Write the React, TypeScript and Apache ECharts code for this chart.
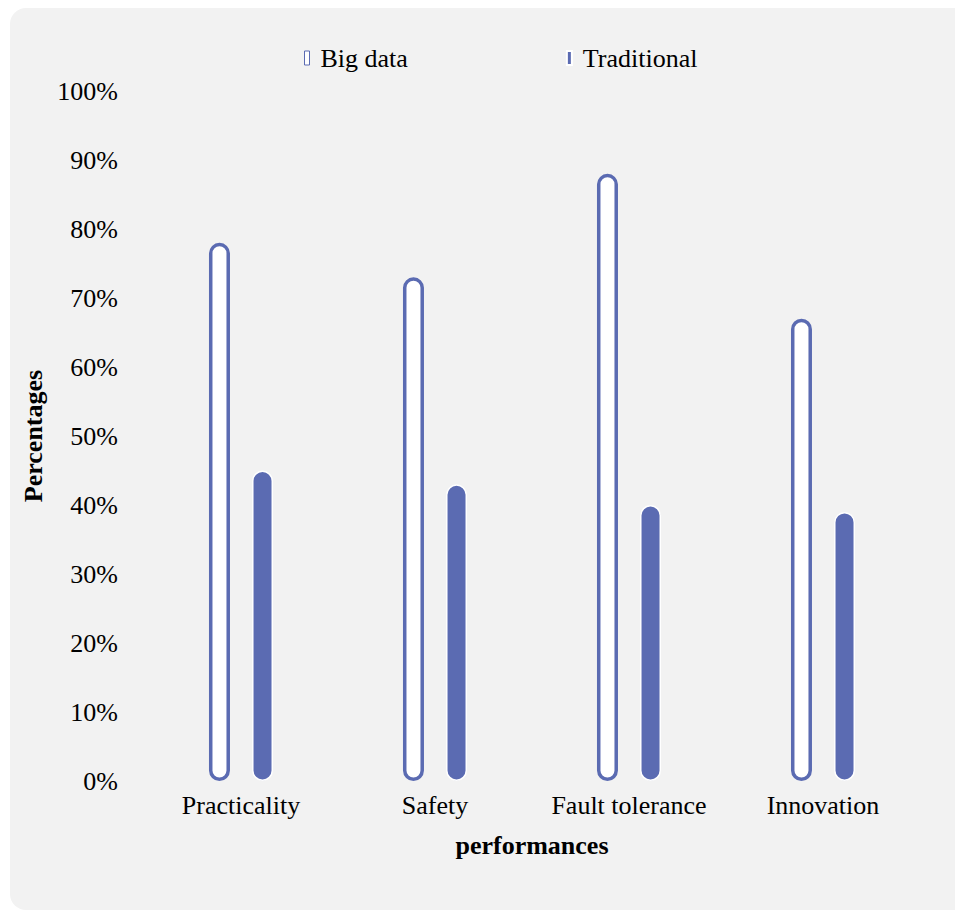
import React, { useEffect, useRef } from "react";
import * as echarts from "echarts";

const categories = ["Practicality", "Safety", "Fault tolerance", "Innovation"];
const bigData = [78, 73, 88, 67];
const traditional = [45, 43, 40, 39];
const seriesNames = ["Big data", "Traditional"];

const BLUE = "#5b6bb2";
const FONT = "'Liberation Serif', 'Times New Roman', serif";

export default function App() {
  const ref = useRef<HTMLDivElement>(null);
  useEffect(() => {
    document.body.style.margin = "0";
    const chart = echarts.init(ref.current!, null, { renderer: "svg" });
    chart.setOption({
      animation: false,
      backgroundColor: "#ffffff",
      textStyle: { fontFamily: FONT },
      graphic: [
        {
          type: "rect",
          z: -10,
          silent: true,
          shape: { x: 10, y: 8, width: 970, height: 902, r: 16 },
          style: { fill: "#f2f2f2" },
        },
      ],
      legend: {
        top: 40,
        left: 299,
        itemWidth: 5,
        itemHeight: 14,
        itemGap: 158,
        textStyle: { fontFamily: FONT, fontSize: 26, color: "#000", padding: [0, 0, 0, 6] },
        data: [
          { name: seriesNames[0], icon: "rect", itemStyle: { color: "#ffffff", borderColor: BLUE, borderWidth: 1 } },
          { name: seriesNames[1], icon: "rect" },
        ],
      },
      grid: { left: 144, right: 35, top: 91, bottom: 129 },
      xAxis: {
        type: "category",
        data: categories,
        axisLine: { show: false },
        axisTick: { show: false },
        axisLabel: { interval: 0, fontFamily: FONT, fontSize: 26, color: "#000", margin: 11 },
        name: "performances",
        nameLocation: "middle",
        nameGap: 51,
        nameTextStyle: { fontFamily: FONT, fontSize: 26, fontWeight: "bold", color: "#000" },
      },
      yAxis: {
        type: "value",
        min: 0,
        max: 100,
        interval: 10,
        splitLine: { show: false },
        axisLine: { show: false },
        axisTick: { show: false },
        axisLabel: { fontFamily: FONT, fontSize: 26, color: "#000", margin: 26, formatter: "{value}%" },
        name: "Percentages",
        nameLocation: "middle",
        nameGap: 94,
        nameRotate: 90,
        nameTextStyle: { fontFamily: FONT, fontSize: 26, fontWeight: "bold", color: "#000" },
      },
      series: [
        {
          name: seriesNames[0],
          type: "bar",
          data: bigData,
          barWidth: 21,
          barGap: "105%",
          itemStyle: { color: "#ffffff", borderColor: BLUE, borderWidth: 3.5, borderRadius: 12 },
        },
        {
          name: seriesNames[1],
          type: "bar",
          data: traditional,
          barWidth: 21,
          itemStyle: { color: BLUE, borderColor: "#ffffff", borderWidth: 1.5, borderRadius: 11 },
        },
      ],
    });
    return () => chart.dispose();
  }, []);
  return <div ref={ref} style={{ width: 955, height: 910 }} />;
}
